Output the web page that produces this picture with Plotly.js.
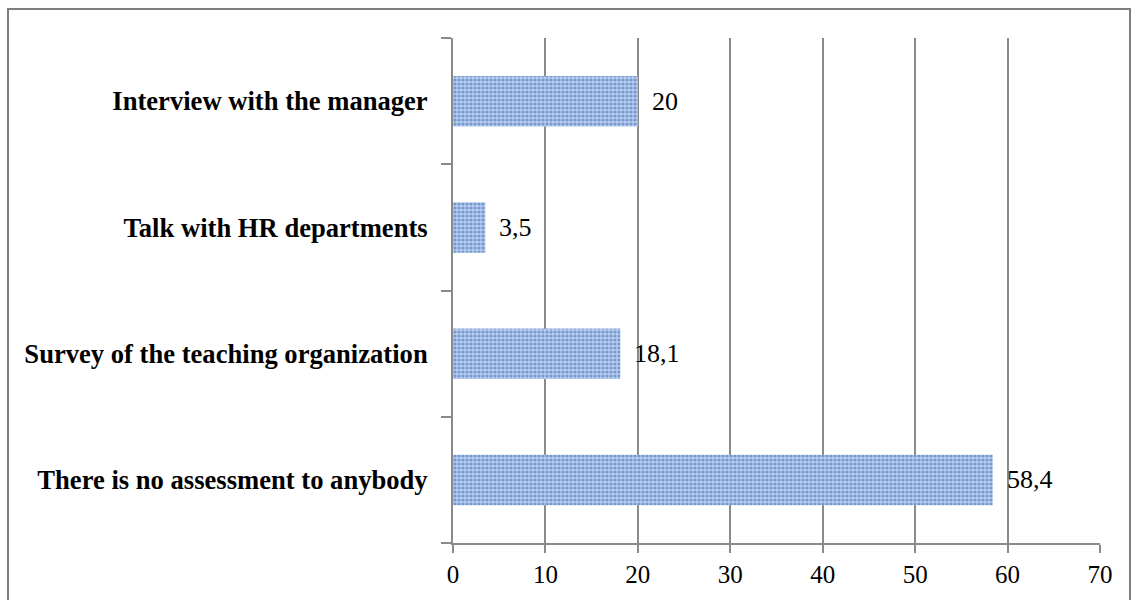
<!DOCTYPE html>
<html>
<head>
<meta charset="utf-8">
<script src="https://cdn.plot.ly/plotly-3.0.1.min.js"></script>
<style>
  html, body { margin: 0; padding: 0; background: #fff; }
  #chart { position: absolute; left: 0; top: 0; width: 1135px; height: 600px; }
  #frame { position: absolute; left: 7px; top: 8px; width: 1124px; height: 600px;
           border: 2px solid #7f7f7f; pointer-events: none; box-sizing: border-box; }
</style>
</head>
<body>
<div id="chart"></div>
<div id="frame"></div>
<script>
const categories = [
  "There is no assessment to anybody",
  "Survey of the teaching organization",
  "Talk with HR departments",
  "Interview with the manager"
];
const values = [58.4, 18.1, 3.5, 20];
const xTicks = [0, 10, 20, 30, 40, 50, 60, 70];

const labels = values.map(v => String(v).replace('.', ','));
const serif = 'Liberation Serif, Times New Roman, serif';

const trace = {
  type: 'bar',
  orientation: 'h',
  y: categories,
  x: values,
  marker: {
    color: '#aac2e6',
    pattern: { shape: '.', fgcolor: '#7398d2', bgcolor: '#bacdec', size: 4, solidity: 0.5 },
    line: { width: 0 }
  },
  hoverinfo: 'skip'
};

const annotations = values.map((v, i) => ({
  x: v,
  y: categories[i],
  xref: 'x',
  yref: 'y',
  text: labels[i],
  showarrow: false,
  xanchor: 'left',
  yanchor: 'middle',
  xshift: 12,
  font: { family: serif, size: 26, color: '#000' }
}));

const layout = {
  width: 1135,
  height: 600,
  margin: { l: 453, r: 35, t: 38, b: 57 },
  paper_bgcolor: '#fff',
  plot_bgcolor: '#fff',
  showlegend: false,
  bargap: 0.6,
  font: { family: serif, color: '#000' },
  annotations: annotations,
  xaxis: {
    range: [0, 70],
    tickvals: xTicks,
    ticktext: xTicks.map(String),
    showgrid: true,
    gridcolor: '#8a8a8a',
    gridwidth: 2,
    zeroline: false,
    showline: true,
    linecolor: '#8a8a8a',
    linewidth: 2,
    ticks: 'outside',
    ticklen: 8,
    tickwidth: 2,
    tickcolor: '#8a8a8a',
    tickfont: { family: serif, size: 25, color: '#000' },
    fixedrange: true
  },
  yaxis: {
    type: 'category',
    categoryorder: 'array',
    categoryarray: categories,
    showgrid: false,
    zeroline: false,
    showline: true,
    linecolor: '#8a8a8a',
    linewidth: 2,
    ticks: 'outside',
    tickson: 'boundaries',
    ticklen: 10,
    tickwidth: 2,
    tickcolor: '#8a8a8a',
    ticklabelstandoff: 18,
    tickfont: { family: serif, size: 26.6, color: '#000', weight: 'bold' },
    fixedrange: true
  }
};

Plotly.newPlot('chart', [trace], layout, { displayModeBar: false, staticPlot: true });
</script>
</body>
</html>
